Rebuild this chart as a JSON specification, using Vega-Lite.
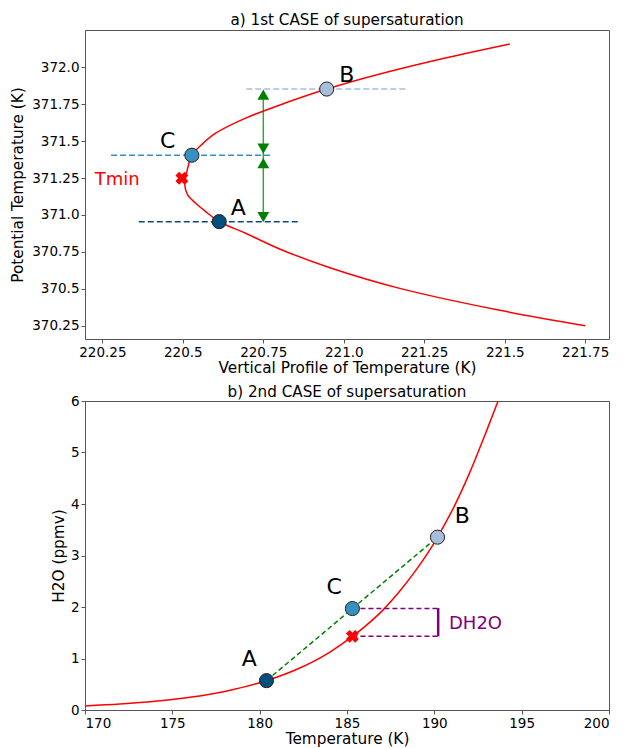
{
  "$schema": "https://vega.github.io/schema/vega-lite/v6.json",
  "background": "white",
  "padding": {"left": 10, "top": 12, "right": 5, "bottom": 2},
  "spacing": 7,
  "config": {
    "font": "DejaVu Sans",
    "view": {"stroke": "#555", "strokeWidth": 1},
    "title": {"font": "DejaVu Sans", "fontSize": 15.2, "fontWeight": "normal", "color": "black", "offset": 2},
    "axis": {
      "grid": false, "domain": false, "tickColor": "#555", "tickSize": 4,
      "labelFont": "DejaVu Sans", "labelFontSize": 13.5, "labelColor": "black", "labelPadding": 2,
      "titleFont": "DejaVu Sans", "titleFontSize": 15.3, "titleFontWeight": "normal", "titleColor": "black"
    }
  },
  "datasets": {
    "topCurve": [
      {"x": 221.75, "y": 370.25},
      {"x": 221.481, "y": 370.356},
      {"x": 221.174, "y": 370.503},
      {"x": 220.964, "y": 370.638},
      {"x": 220.808, "y": 370.763},
      {"x": 220.695, "y": 370.876},
      {"x": 220.613, "y": 370.955},
      {"x": 220.571, "y": 371.023},
      {"x": 220.54, "y": 371.079},
      {"x": 220.515, "y": 371.136},
      {"x": 220.506, "y": 371.204},
      {"x": 220.515, "y": 371.317},
      {"x": 220.528, "y": 371.405},
      {"x": 220.56, "y": 371.48},
      {"x": 220.602, "y": 371.554},
      {"x": 220.695, "y": 371.656},
      {"x": 220.818, "y": 371.758},
      {"x": 220.947, "y": 371.853},
      {"x": 221.103, "y": 371.95},
      {"x": 221.289, "y": 372.05},
      {"x": 221.516, "y": 372.158}
    ],
    "topLines": [
      {"pt": "B", "x": 220.697, "xEnd": 221.197, "y": 371.853},
      {"pt": "C", "x": 220.277, "xEnd": 220.777, "y": 371.405},
      {"pt": "A", "x": 220.363, "xEnd": 220.863, "y": 370.955}
    ],
    "topPoints": [
      {"pt": "A", "x": 220.613, "y": 370.955},
      {"pt": "C", "x": 220.528, "y": 371.405},
      {"pt": "B", "x": 220.947, "y": 371.853}
    ],
    "arrowShaft": [{"x": 220.75, "y": 371.81, "yEnd": 370.99}],
    "arrowHeads": [
      {"x": 220.75, "y": 371.815, "dir": "up"},
      {"x": 220.75, "y": 371.449, "dir": "down"},
      {"x": 220.75, "y": 371.351, "dir": "up"},
      {"x": 220.75, "y": 370.985, "dir": "down"}
    ],
    "tmin": [{"x": 220.497, "y": 371.249}],
    "topLabels": [
      {"x": 221.009, "y": 371.95, "label": "B"},
      {"x": 220.453, "y": 371.498, "label": "C"},
      {"x": 220.672, "y": 371.045, "label": "A"}
    ],
    "tminLabel": [{"x": 220.296, "y": 371.24, "label": "Tmin"}],
    "botCurve": [
      {"x": 170, "y": 0.078},
      {"x": 172, "y": 0.115},
      {"x": 174, "y": 0.168},
      {"x": 175, "y": 0.205},
      {"x": 176, "y": 0.247},
      {"x": 178, "y": 0.361},
      {"x": 180, "y": 0.529},
      {"x": 180.39, "y": 0.57},
      {"x": 182, "y": 0.771},
      {"x": 184, "y": 1.121},
      {"x": 185.31, "y": 1.43},
      {"x": 186, "y": 1.615},
      {"x": 187, "y": 1.92},
      {"x": 188, "y": 2.3},
      {"x": 189, "y": 2.74},
      {"x": 190, "y": 3.25},
      {"x": 190.18, "y": 3.356},
      {"x": 191, "y": 3.86},
      {"x": 192, "y": 4.59},
      {"x": 193, "y": 5.43},
      {"x": 193.65, "y": 6.0}
    ],
    "botPoints": [
      {"pt": "A", "x": 180.39, "y": 0.57},
      {"pt": "C", "x": 185.31, "y": 1.97},
      {"pt": "B", "x": 190.18, "y": 3.356}
    ],
    "botDiag": [{"x": 180.39, "y": 0.57}, {"x": 190.18, "y": 3.356}],
    "botPurpleDash": [
      {"x": 185.31, "xEnd": 190.2, "y": 1.97},
      {"x": 185.31, "xEnd": 190.2, "y": 1.43}
    ],
    "botPurpleBar": [{"x": 190.22, "y": 1.43, "yEnd": 1.98}],
    "botX": [{"x": 185.31, "y": 1.43}],
    "botLabels": [
      {"x": 179.4, "y": 0.99, "label": "A"},
      {"x": 191.6, "y": 3.76, "label": "B"},
      {"x": 184.26, "y": 2.384, "label": "C"}
    ],
    "dh2o": [{"x": 190.84, "y": 1.672, "label": "DH2O"}]
  },
  "vconcat": [
    {
      "width": 524,
      "height": 309,
      "title": "a) 1st CASE of supersaturation",
      "layer": [
        {
          "data": {"name": "topLines"},
          "mark": {"type": "rule", "strokeDash": [6, 3], "strokeWidth": 1.5},
          "encoding": {
            "x": {"field": "x", "type": "quantitative",
              "scale": {"domain": [220.196, 221.824], "nice": false, "zero": false},
              "axis": {"title": "Vertical Profile of Temperature (K)", "values": [220.25, 220.5, 220.75, 221.0, 221.25, 221.5, 221.75],
                "labelExpr": "replace(format(datum.value, '.2f'), regexp('0$'), '')", "titlePadding": 2}},
            "x2": {"field": "xEnd"},
            "y": {"field": "y", "type": "quantitative",
              "scale": {"domain": [370.16, 372.253], "nice": false, "zero": false},
              "axis": {"title": "Potential Temperature (K)", "values": [370.25, 370.5, 370.75, 371.0, 371.25, 371.5, 371.75, 372.0],
                "labelExpr": "replace(format(datum.value, '.2f'), regexp('0$'), '')", "titlePadding": 6}},
            "color": {"field": "pt", "type": "nominal", "legend": null,
              "scale": {"domain": ["A", "B", "C"], "range": ["#034e7b", "#a6bddb", "#3690c0"]}}
          }
        },
        {
          "data": {"name": "topCurve"},
          "mark": {"type": "line", "color": "red", "strokeWidth": 1.5, "interpolate": "catmull-rom"},
          "encoding": {
            "x": {"field": "x", "type": "quantitative"},
            "y": {"field": "y", "type": "quantitative"},
            "order": {"field": "y", "type": "quantitative"}
          }
        },
        {
          "data": {"name": "arrowShaft"},
          "mark": {"type": "rule", "color": "green", "opacity": 0.75, "strokeWidth": 1.5},
          "encoding": {
            "x": {"field": "x", "type": "quantitative"},
            "y": {"field": "y", "type": "quantitative"},
            "y2": {"field": "yEnd"}
          }
        },
        {
          "data": {"name": "arrowHeads"},
          "mark": {"type": "point", "filled": true, "color": "green", "opacity": 1, "size": 140},
          "encoding": {
            "x": {"field": "x", "type": "quantitative"},
            "y": {"field": "y", "type": "quantitative"},
            "shape": {"field": "dir", "type": "nominal", "legend": null,
              "scale": {"domain": ["up", "down"], "range": ["triangle-up", "triangle-down"]}}
          }
        },
        {
          "data": {"name": "topPoints"},
          "mark": {"type": "circle", "size": 200, "opacity": 1, "stroke": "#222", "strokeWidth": 1},
          "encoding": {
            "x": {"field": "x", "type": "quantitative"},
            "y": {"field": "y", "type": "quantitative"},
            "color": {"field": "pt", "type": "nominal", "legend": null}
          }
        },
        {
          "data": {"name": "tmin"},
          "mark": {"type": "point", "shape": "cross", "angle": 45, "filled": true, "color": "red", "opacity": 1, "size": 170},
          "encoding": {
            "x": {"field": "x", "type": "quantitative"},
            "y": {"field": "y", "type": "quantitative"}
          }
        },
        {
          "data": {"name": "topLabels"},
          "mark": {"type": "text", "fontSize": 22, "color": "black", "align": "center", "baseline": "middle", "font": "DejaVu Sans"},
          "encoding": {
            "x": {"field": "x", "type": "quantitative"},
            "y": {"field": "y", "type": "quantitative"},
            "text": {"field": "label"}
          }
        },
        {
          "data": {"name": "tminLabel"},
          "mark": {"type": "text", "fontSize": 18, "color": "red", "align": "center", "baseline": "middle", "font": "DejaVu Sans"},
          "encoding": {
            "x": {"field": "x", "type": "quantitative"},
            "y": {"field": "y", "type": "quantitative"},
            "text": {"field": "label"}
          }
        }
      ]
    },
    {
      "width": 524,
      "height": 309,
      "title": {"text": "b) 2nd CASE of supersaturation", "offset": -6},
      "layer": [
        {
          "data": {"name": "botCurve"},
          "mark": {"type": "line", "color": "red", "strokeWidth": 1.5, "clip": true, "interpolate": "monotone"},
          "encoding": {
            "x": {"field": "x", "type": "quantitative",
              "scale": {"domain": [170, 200], "nice": false, "zero": false},
              "axis": {"title": "Temperature (K)", "values": [170, 175, 180, 185, 190, 195, 200], "titlePadding": 2}},
            "y": {"field": "y", "type": "quantitative",
              "scale": {"domain": [0, 6], "nice": false},
              "axis": {"title": "H2O (ppmv)", "values": [0, 1, 2, 3, 4, 5, 6], "titlePadding": 4}}
          }
        },
        {
          "data": {"name": "botDiag"},
          "mark": {"type": "line", "color": "green", "strokeDash": [5, 3], "strokeWidth": 1.5},
          "encoding": {
            "x": {"field": "x", "type": "quantitative"},
            "y": {"field": "y", "type": "quantitative"}
          }
        },
        {
          "data": {"name": "botPurpleDash"},
          "mark": {"type": "rule", "color": "purple", "strokeDash": [5, 3], "strokeWidth": 1.5},
          "encoding": {
            "x": {"field": "x", "type": "quantitative"},
            "x2": {"field": "xEnd"},
            "y": {"field": "y", "type": "quantitative"}
          }
        },
        {
          "data": {"name": "botPurpleBar"},
          "mark": {"type": "rule", "color": "purple", "strokeWidth": 2.5},
          "encoding": {
            "x": {"field": "x", "type": "quantitative"},
            "y": {"field": "y", "type": "quantitative"},
            "y2": {"field": "yEnd"}
          }
        },
        {
          "data": {"name": "botPoints"},
          "mark": {"type": "circle", "size": 200, "opacity": 1, "stroke": "#222", "strokeWidth": 1},
          "encoding": {
            "x": {"field": "x", "type": "quantitative"},
            "y": {"field": "y", "type": "quantitative"},
            "color": {"field": "pt", "type": "nominal", "legend": null,
              "scale": {"domain": ["A", "B", "C"], "range": ["#034e7b", "#a6bddb", "#3690c0"]}}
          }
        },
        {
          "data": {"name": "botX"},
          "mark": {"type": "point", "shape": "cross", "angle": 45, "filled": true, "color": "red", "opacity": 1, "size": 170},
          "encoding": {
            "x": {"field": "x", "type": "quantitative"},
            "y": {"field": "y", "type": "quantitative"}
          }
        },
        {
          "data": {"name": "botLabels"},
          "mark": {"type": "text", "fontSize": 22, "color": "black", "align": "center", "baseline": "middle", "font": "DejaVu Sans"},
          "encoding": {
            "x": {"field": "x", "type": "quantitative"},
            "y": {"field": "y", "type": "quantitative"},
            "text": {"field": "label"}
          }
        },
        {
          "data": {"name": "dh2o"},
          "mark": {"type": "text", "fontSize": 18, "color": "purple", "align": "left", "baseline": "middle", "font": "DejaVu Sans"},
          "encoding": {
            "x": {"field": "x", "type": "quantitative"},
            "y": {"field": "y", "type": "quantitative"},
            "text": {"field": "label"}
          }
        }
      ]
    }
  ]
}
